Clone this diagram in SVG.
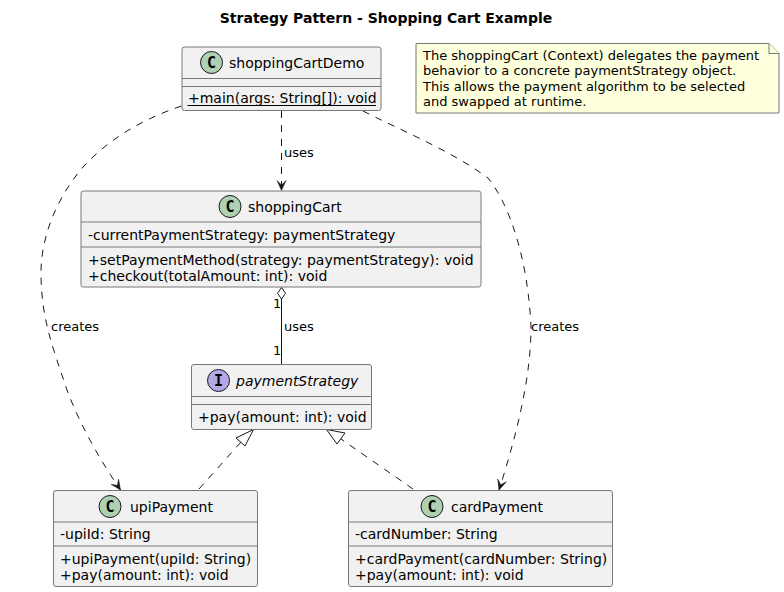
<svg xmlns="http://www.w3.org/2000/svg" width="784" height="592" viewBox="0 0 784 592">
<style>
text{font-family:"DejaVu Sans",sans-serif;fill:#000}
.box{fill:#F1F1F1;stroke:#787878;stroke-width:1}
.sep{stroke:#787878;stroke-width:1;fill:none}
.name{font-size:14px}
.mem{font-size:14px}
.lbl{font-size:13px}
.note{font-size:13px}
.c{fill:none;stroke:#181818;stroke-width:1}
.d{stroke-dasharray:7 7}
.spot{stroke:#181818;stroke-width:1}
.glyph{font-size:15px;font-weight:bold;font-family:"DejaVu Sans Mono","DejaVu Sans",monospace;text-anchor:middle}
</style>
<defs>
<marker id="open" markerUnits="userSpaceOnUse" markerWidth="14" markerHeight="14" refX="10" refY="5" orient="auto" overflow="visible"><path d="M0 0.500L10 5L0 9.500L4.500 5Z" fill="#181818" stroke="#181818" stroke-width="0.500"/></marker>
</defs>
<text x="386" y="23" text-anchor="middle" font-size="14" font-weight="bold">Strategy Pattern - Shopping Cart Example</text>
<g id="connectors">
<path class="c d" marker-end="url(#open)" d="M181.500 106C140 120 108 140 83 167C55 200 40 240 41 277C42 320 52 345 67 390C80 425 100 460 120.500 490"/>
<path class="c d" marker-end="url(#open)" d="M281.500 111L281.500 190.500"/>
<path class="c d" marker-end="url(#open)" d="M363 111C400 130 450 150 488 178C510 205 528 260 531 327C531 380 515 440 499 490"/>
<path d="M281.500 287.500L285.500 293.300L281.500 299L277.500 293.300Z" fill="#fff" stroke="#181818"/>
<path class="c" d="M281.500 299L281.500 364"/>
<path class="c d" d="M199 489L241 442"/>
<path d="M253.500 429.500L245 446L236 438Z" fill="#fff" stroke="#181818"/>
<path class="c d" d="M413 489L341 439"/>
<path d="M326.500 429.500L345 433L337 444Z" fill="#fff" stroke="#181818"/>
<text class="lbl" x="284" y="157">uses</text>
<text class="lbl" x="51" y="331">creates</text>
<text class="lbl" x="531" y="331">creates</text>
<text class="lbl" x="284" y="331">uses</text>
<text class="lbl" x="273" y="308">1</text>
<text class="lbl" x="273" y="354.500">1</text>
</g>
<g id="shoppingCartDemo">
<rect class="box" x="182" y="47" width="199" height="63.500" rx="2.500"/>
<path class="sep" d="M182 78.500H381M182 86.500H381"/>
<circle class="spot" cx="211.500" cy="62.500" r="11" fill="#ADD1B2"/>
<text class="glyph" x="211.500" y="68">C</text>
<text class="name" x="229" y="67.500">shoppingCartDemo</text>
<text class="mem" x="188" y="103">+main(args: String[]): void</text>
<path d="M187.500 105.500H376" fill="none" stroke="#000" stroke-width="1"/>
</g>
<g id="note">
<path d="M416 43.500H769L779 53.500V113H416Z" fill="#FEFFDD" stroke="#787878"/>
<path d="M769 43.500V53.500H779" fill="#FEFFDD" stroke="#787878"/>
<text class="note" x="423" y="59.500">The shoppingCart (Context) delegates the payment</text>
<text class="note" x="423" y="74.500">behavior to a concrete paymentStrategy object.</text>
<text class="note" x="423" y="90.500">This allows the payment algorithm to be selected</text>
<text class="note" x="423" y="105.500">and swapped at runtime.</text>
</g>
<g id="shoppingCart">
<rect class="box" x="81" y="191" width="400" height="96" rx="2.500"/>
<path class="sep" d="M81 222H481M81 247H481"/>
<circle class="spot" cx="230" cy="206.500" r="11" fill="#ADD1B2"/>
<text class="glyph" x="230" y="212">C</text>
<text class="name" x="248" y="211.500">shoppingCart</text>
<text class="mem" x="88" y="240">-currentPaymentStrategy: paymentStrategy</text>
<text class="mem" x="88" y="265">+setPaymentMethod(strategy: paymentStrategy): void</text>
<text class="mem" x="88" y="281">+checkout(totalAmount: int): void</text>
</g>
<g id="paymentStrategy">
<rect class="box" x="191.500" y="364.500" width="180" height="65" rx="2.500"/>
<path class="sep" d="M191.500 396.500H371.500M191.500 404.500H371.500"/>
<circle class="spot" cx="218.500" cy="380.500" r="11" fill="#B4A7E5"/>
<text class="glyph" x="218.500" y="386">I</text>
<text class="name" x="236" y="385.500" font-style="italic">paymentStrategy</text>
<text class="mem" x="198" y="422">+pay(amount: int): void</text>
</g>
<g id="upiPayment">
<rect class="box" x="53.500" y="490.500" width="204" height="96" rx="2.500"/>
<path class="sep" d="M53.500 522H257.500M53.500 546H257.500"/>
<circle class="spot" cx="110" cy="506.500" r="11" fill="#ADD1B2"/>
<text class="glyph" x="110" y="512">C</text>
<text class="name" x="130" y="511.500">upiPayment</text>
<text class="mem" x="60" y="539">-upiId: String</text>
<text class="mem" x="60" y="564">+upiPayment(upiId: String)</text>
<text class="mem" x="60" y="580">+pay(amount: int): void</text>
</g>
<g id="cardPayment">
<rect class="box" x="348.500" y="490.500" width="264" height="96" rx="2.500"/>
<path class="sep" d="M348.500 522H612.500M348.500 546H612.500"/>
<circle class="spot" cx="432" cy="506.500" r="11" fill="#ADD1B2"/>
<text class="glyph" x="432" y="512">C</text>
<text class="name" x="451" y="511.500">cardPayment</text>
<text class="mem" x="355" y="539">-cardNumber: String</text>
<text class="mem" x="355" y="564">+cardPayment(cardNumber: String)</text>
<text class="mem" x="355" y="580">+pay(amount: int): void</text>
</g>
</svg>
